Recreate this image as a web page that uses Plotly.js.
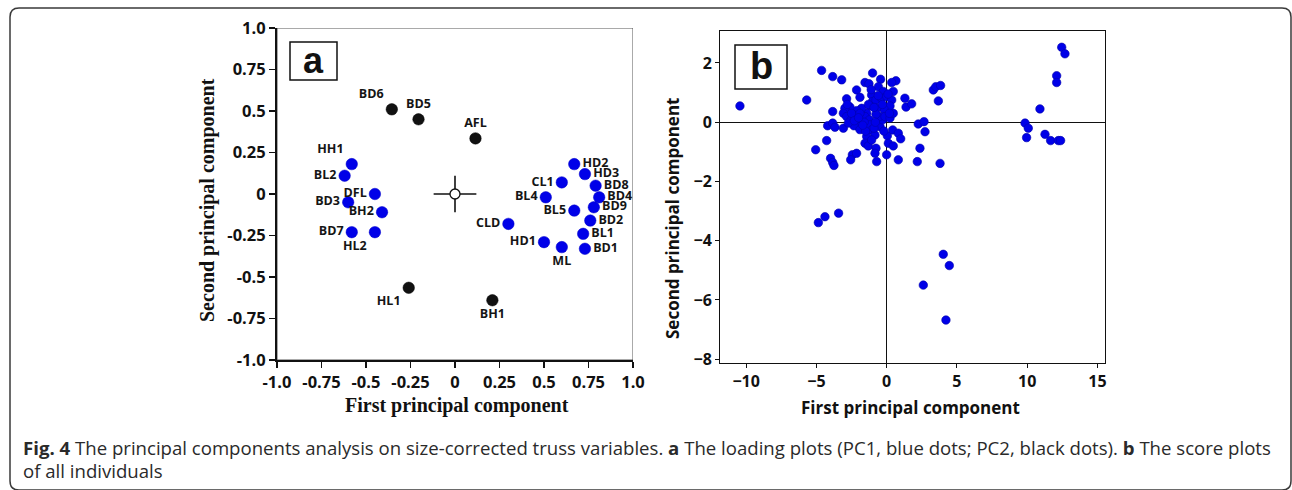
<!DOCTYPE html>
<html>
<head>
<meta charset="utf-8">
<script src="https://cdn.plot.ly/plotly-3.0.1.min.js"></script>
<style>html,body{margin:0;padding:0;background:#fff;}#chart{width:1292px;height:490px;}</style>
</head>
<body>
<div id="chart"></div>
<script>
// ---------- Panel a: loadings ----------
var pc1Names = ['HH1','BL2','DFL','BD3','BH2','BD7','HL2','CLD','HD1','ML','BD1','BL1','BD2','BD9','BD4','BD8','HD3','HD2','CL1','BL4','BL5'];
var pc1X = [-0.58,-0.62,-0.45,-0.60,-0.41,-0.58,-0.45,0.30,0.50,0.60,0.73,0.72,0.76,0.78,0.81,0.79,0.73,0.67,0.60,0.51,0.67];
var pc1Y = [0.18,0.11,0.00,-0.05,-0.11,-0.23,-0.23,-0.18,-0.29,-0.32,-0.33,-0.24,-0.16,-0.08,-0.02,0.05,0.12,0.18,0.07,-0.02,-0.10];

var pc2Names = ['BD6','BD5','AFL','HL1','BH1'];
var pc2X = [-0.355,-0.205,0.115,-0.26,0.21];
var pc2Y = [0.51,0.45,0.335,-0.565,-0.64];

var originX = [0];
var originY = [0];
var crossHX = [-0.12,0.12];
var crossHY = [0,0];
var crossVX = [0,0];
var crossVY = [0.11,-0.11];

var loadTicks = [-1,-0.75,-0.5,-0.25,0,0.25,0.5,0.75,1];
var loadTickText = ['-1.0','-0.75','-0.5','-0.25','0','0.25','0.5','0.75','1.0'];

// ---------- Panel b: scores ----------
var scoreX = [
 -10.44,-5.69,-4.63,-3.84,-3.20,-3.84,-4.20,-3.84,-3.68,-3.08,-4.27,-5.05,-3.99,-3.84,-3.75,-4.86,-4.39,-3.42,
 -1.00,-0.43,-1.54,-1.26,0.66,0.36,-2.14,-1.90,-2.85,-0.59,-0.24,0.47,-1.07,-1.00,-0.76,-0.36,0.00,0.36,0.24,-0.19,
 -0.71,-1.19,-1.42,-1.78,-2.14,-2.61,-2.97,-3.08,-2.85,-2.56,-2.37,-2.18,-2.02,-2.33,-2.73,-1.71,-1.54,-1.23,-1.19,
 -1.07,-0.83,-0.47,-0.28,-0.52,-0.12,0.24,0.47,-0.76,-1.42,-1.54,-1.31,-1.07,-0.76,-0.83,-0.71,0.00,0.05,0.12,0.47,
 0.43,0.83,1.00,0.83,-2.44,-2.56,-2.14,1.30,1.38,1.78,2.25,2.66,2.73,2.37,2.18,3.80,3.32,3.50,3.84,3.68,
 -2.50,-2.30,-1.90,-1.60,-1.30,-0.90,-0.60,-0.30,0.20,-1.90,-1.50,-0.90,-0.20,-2.80,-1.10,-0.80,0.10,-2.00,-1.70,
 12.46,12.69,12.10,12.10,10.91,9.85,10.08,9.96,11.27,11.67,12.22,12.38,
 4.03,4.46,2.61,4.22
];
var scoreY = [
 0.55,0.75,1.75,1.54,1.43,0.36,-0.12,-0.03,-0.17,-0.20,-0.62,-0.93,-1.22,-1.36,-1.46,-3.39,-3.19,-3.07,
 1.66,1.45,1.34,1.30,1.40,1.34,1.09,0.84,0.79,1.20,1.04,1.04,0.92,0.70,0.75,0.81,0.87,0.75,0.55,0.44,
 0.47,0.55,0.30,0.47,0.39,0.51,0.47,0.30,0.19,0.06,0.25,0.08,-0.15,-0.12,-0.03,0.08,0.19,0.08,-0.09,
 -0.26,-0.43,-0.15,0.08,0.19,0.19,0.14,0.30,0.27,-0.48,-0.71,-0.80,-0.60,-0.88,-1.05,-1.33,-1.10,-0.46,-0.71,-0.80,
 -0.26,-0.37,-0.56,-1.27,-1.10,-1.27,-1.05,0.81,0.51,0.62,-0.06,0.02,-0.32,-0.88,-1.33,-1.39,1.09,1.20,1.24,0.72,
 0.30,0.05,0.30,0.00,0.60,0.50,0.90,0.60,0.30,-0.25,-0.30,-0.20,-0.30,0.60,1.10,0.00,0.95,0.15,-0.10,
 2.53,2.31,1.57,1.34,0.45,-0.03,-0.20,-0.52,-0.41,-0.62,-0.62,-0.62,
 -4.46,-4.84,-5.50,-6.68
];

// ---------- text ----------
var captionLine1 = '<b>Fig. 4</b> The principal components analysis on size-corrected truss variables. <b>a</b> The loading plots (PC1, blue dots; PC2, black dots). <b>b</b> The score plots';
var captionLine2 = 'of all individuals';
var titleX = 'First principal component';
var titleY = 'Second principal component';

// ---------- layout helpers ----------
var W = 1292, H = 490;
function px(x){ return x / W; }
function py(y){ return 1 - y / H; }

var labelPos = {
  HH1:'top left', BL2:'middle left', DFL:'middle left', BD3:'middle left', BH2:'middle left', BD7:'middle left',
  HL2:'bottom left', CLD:'middle left', HD1:'middle left', ML:'bottom center', BD1:'middle right', BL1:'middle right',
  BD2:'middle right', BD9:'middle right', BD4:'middle right', BD8:'middle right', HD3:'middle right', HD2:'middle right',
  CL1:'middle left', BL4:'middle left', BL5:'middle left',
  BD6:'top left', BD5:'top center', AFL:'top center', HL1:'bottom left', BH1:'bottom center'
};

var BLUE = 'rgb(0,0,232)';
var labelFont = {family:'Open Sans', size:12.5, weight:'bold', color:'#151515'};

var traces = [
  {x:crossHX, y:crossHY, xaxis:'x', yaxis:'y', mode:'lines', line:{color:'#111', width:1.6}, hoverinfo:'skip'},
  {x:crossVX, y:crossVY, xaxis:'x', yaxis:'y', mode:'lines', line:{color:'#111', width:1.6}, hoverinfo:'skip'},
  {x:originX, y:originY, xaxis:'x', yaxis:'y', mode:'markers',
   marker:{size:10, color:'#fff', line:{color:'#111', width:1.3}}},
  {x:pc1X, y:pc1Y, text:pc1Names, xaxis:'x', yaxis:'y', mode:'markers+text',
   textposition:pc1Names.map(function(n){return labelPos[n];}), textfont:labelFont,
   marker:{size:11.5, color:BLUE, line:{color:'rgb(0,0,200)', width:0.5}}},
  {x:pc2X, y:pc2Y, text:pc2Names, xaxis:'x', yaxis:'y', mode:'markers+text',
   textposition:pc2Names.map(function(n){return labelPos[n];}), textfont:labelFont,
   marker:{size:11.5, color:'#111', line:{color:'#000', width:0.5}}},
  {x:scoreX, y:scoreY, xaxis:'x2', yaxis:'y2', mode:'markers',
   marker:{size:8.5, color:BLUE, line:{color:'rgb(0,0,170)', width:0.6}}}
];

var tickFontA = {family:'Open Sans', size:16.5, weight:'bold', color:'#111'};
var tickFontB = {family:'Open Sans', size:16, weight:'bold', color:'#111'};

var r = 9;
var L = 10, T = 8, R = 1291, B = 490;
var borderPath = 'M ' + px(L) + ' ' + py(T + r) +
  ' Q ' + px(L) + ' ' + py(T) + ' ' + px(L + r) + ' ' + py(T) +
  ' L ' + px(R - r) + ' ' + py(T) +
  ' Q ' + px(R) + ' ' + py(T) + ' ' + px(R) + ' ' + py(T + r) +
  ' L ' + px(R) + ' ' + py(B - r) +
  ' Q ' + px(R) + ' ' + py(B) + ' ' + px(R - r) + ' ' + py(B) +
  ' L ' + px(L + r) + ' ' + py(B) +
  ' Q ' + px(L) + ' ' + py(B) + ' ' + px(L) + ' ' + py(B - r) + ' Z';

var layout = {
  width:W, height:H,
  margin:{l:0, r:0, t:0, b:0},
  paper_bgcolor:'#fff', plot_bgcolor:'#fff',
  showlegend:false,
  xaxis:{domain:[px(277), px(633)], range:[-1,1], anchor:'y',
    tickvals:loadTicks, ticktext:loadTickText, ticks:'outside', ticklen:6, tickwidth:1.5, tickcolor:'#111',
    showline:true, linewidth:2, linecolor:'#111', showgrid:false, zeroline:false, tickfont:tickFontA, automargin:false},
  yaxis:{domain:[py(360), py(28)], range:[-1,1], anchor:'x',
    tickvals:loadTicks, ticktext:loadTickText, ticks:'outside', ticklen:6, tickwidth:1.5, tickcolor:'#111',
    showline:true, linewidth:2, linecolor:'#111', showgrid:false, zeroline:false, tickfont:tickFontA, automargin:false},
  xaxis2:{domain:[px(720), px(1105)], range:[-11.86,15.54], anchor:'y2', tick0:0, dtick:5,
    ticks:'outside', ticklen:4, tickwidth:1, tickcolor:'#111',
    showline:true, mirror:true, linewidth:1, linecolor:'#111', showgrid:false,
    zeroline:true, zerolinecolor:'#111', zerolinewidth:1, tickfont:tickFontB, automargin:false},
  yaxis2:{domain:[py(363), py(31)], range:[-8.13,3.08], anchor:'x2', tick0:0, dtick:2,
    ticks:'outside', ticklen:4, tickwidth:1, tickcolor:'#111',
    showline:true, mirror:true, linewidth:1, linecolor:'#111', showgrid:false,
    zeroline:true, zerolinecolor:'#111', zerolinewidth:1, tickfont:tickFontB, automargin:false},
  shapes:[
    {type:'path', xref:'paper', yref:'paper', path:borderPath, line:{color:'#3a3a3a', width:1.5}},
    {type:'rect', xref:'x', yref:'y', x0:-1, x1:1, y0:-1, y1:1, line:{color:'#555', width:1}},
    {type:'rect', xref:'paper', yref:'paper', x0:px(290), x1:px(337), y0:py(80), y1:py(42), line:{color:'#111', width:1.5}},
    {type:'rect', xref:'paper', yref:'paper', x0:px(735), x1:px(787), y0:py(89), y1:py(45), line:{color:'#111', width:1.5}}
  ],
  annotations:[
    {xref:'paper', yref:'paper', x:px(313.5), y:py(60), text:'a', showarrow:false, xanchor:'center', yanchor:'middle',
     font:{family:'Liberation Sans', size:36, weight:'bold', color:'#111'}},
    {xref:'paper', yref:'paper', x:px(761), y:py(66), text:'b', showarrow:false, xanchor:'center', yanchor:'middle',
     font:{family:'Liberation Sans', size:38, weight:'bold', color:'#111'}},
    {xref:'paper', yref:'paper', x:px(457), y:py(405), text:titleX, showarrow:false, xanchor:'center', yanchor:'middle',
     font:{family:'Liberation Serif', size:20, weight:'bold', color:'#111'}},
    {xref:'paper', yref:'paper', x:px(207), y:py(200), text:titleY, showarrow:false, xanchor:'center', yanchor:'middle', textangle:-90,
     font:{family:'Liberation Serif', size:20, weight:'bold', color:'#111'}},
    {xref:'paper', yref:'paper', x:px(910), y:py(407), text:titleX, showarrow:false, xanchor:'center', yanchor:'middle',
     font:{family:'Open Sans', size:17, weight:'bold', color:'#111'}},
    {xref:'paper', yref:'paper', x:px(672), y:py(219), text:titleY, showarrow:false, xanchor:'center', yanchor:'middle', textangle:-90,
     font:{family:'Open Sans', size:17, weight:'bold', color:'#111'}},
    {xref:'paper', yref:'paper', x:px(21), y:py(447), text:captionLine1, showarrow:false, xanchor:'left', yanchor:'middle',
     font:{family:'Open Sans', size:18.6, color:'#2a2a2a'}},
    {xref:'paper', yref:'paper', x:px(21), y:py(470), text:captionLine2, showarrow:false, xanchor:'left', yanchor:'middle',
     font:{family:'Open Sans', size:18.6, color:'#2a2a2a'}}
  ]
};

Plotly.newPlot('chart', traces, layout, {displayModeBar:false, staticPlot:true});
</script>
</body>
</html>
